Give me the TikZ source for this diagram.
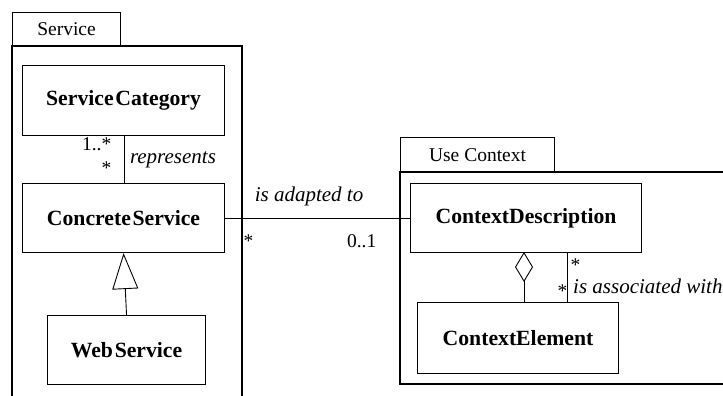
\documentclass[tikz,border=0pt]{standalone}
\usepackage{fontspec}
\setmainfont{Liberation Serif}
\usetikzlibrary{arrows.meta}
\begin{document}
\begin{tikzpicture}[x=1pt,y=-1pt,
  cls/.style={draw,line width=1.1pt,inner sep=0pt,anchor=north west,font=\fontsize{21.7}{24}\selectfont\bfseries},
  pkg/.style={draw,line width=1.1pt},
  tab/.style={draw,line width=1.1pt,inner sep=0pt,anchor=north west,font=\fontsize{19.5}{22}\selectfont},
  conn/.style={line width=0.9pt},
  lbl/.style={font=\fontsize{21}{23}\selectfont\itshape,inner sep=1pt},
  mult/.style={font=\fontsize{19.5}{22}\selectfont,inner sep=0.5pt}]
\useasboundingbox (0,0) rectangle (723,396);
\clip (0,0) rectangle (723,396);
% Service package
\node[tab,minimum width=108pt,minimum height=34pt] (svctab) at (12,12) {Service};
\draw[pkg] (12,46) rectangle (242,420);
\node[cls,minimum width=202pt,minimum height=70pt] (sc) at (22,65) {Service\hspace{0.08em}Category};
\node[cls,minimum width=202pt,minimum height=69pt] (cs) at (22,183) {Concrete\hspace{0.08em}Service};
\node[cls,minimum width=158pt,minimum height=69pt] (ws) at (47,315) {Web\hspace{0.08em}Service};
\draw[conn] ([xshift=1pt]sc.south) -- ([xshift=1pt]cs.north)
  node[lbl,pos=0.5,right=4pt] {represents};
\node[mult,anchor=east] at (112,144) {1..*};
\node[mult,anchor=east] at (112,168) {*};
\draw[conn,-{Triangle[open,width=26pt,length=36pt,line width=0.9pt]}] (ws.north) -- (cs.south);
% Use Context package
\node[tab,minimum width=154pt,minimum height=35pt] (uctab) at (400,137) {Use Context};
\draw[pkg] (400,172) rectangle (760,384);
\node[cls,minimum width=231pt,minimum height=69pt] (cd) at (410,183) {ContextDescription};
\node[cls,minimum width=201pt,minimum height=71pt] (ce) at (417,302) {ContextElement};
\coordinate (cdA) at (524,252);
\coordinate (ceA) at (524,302);
\draw[conn,-{Diamond[open,width=18pt,length=30pt,line width=0.9pt]}] (ceA) -- (cdA);
\coordinate (cdB) at (567,252);
\coordinate (ceB) at (567,302);
\draw[conn] (cdB) -- (ceB);
\node[mult,anchor=west] at (570,265) {*};
\node[mult,anchor=east] at (568,291) {*};
\node[lbl,anchor=west] at (572,286) {is associated with};
% association between packages
\draw[conn] (cs.east) -- (cd.west);
\node[lbl,anchor=south] at (309,207) {is adapted to};
\node[mult,anchor=west] at (243,241) {*};
\node[mult,anchor=east] at (377,241) {0..1};
\end{tikzpicture}
\end{document}
